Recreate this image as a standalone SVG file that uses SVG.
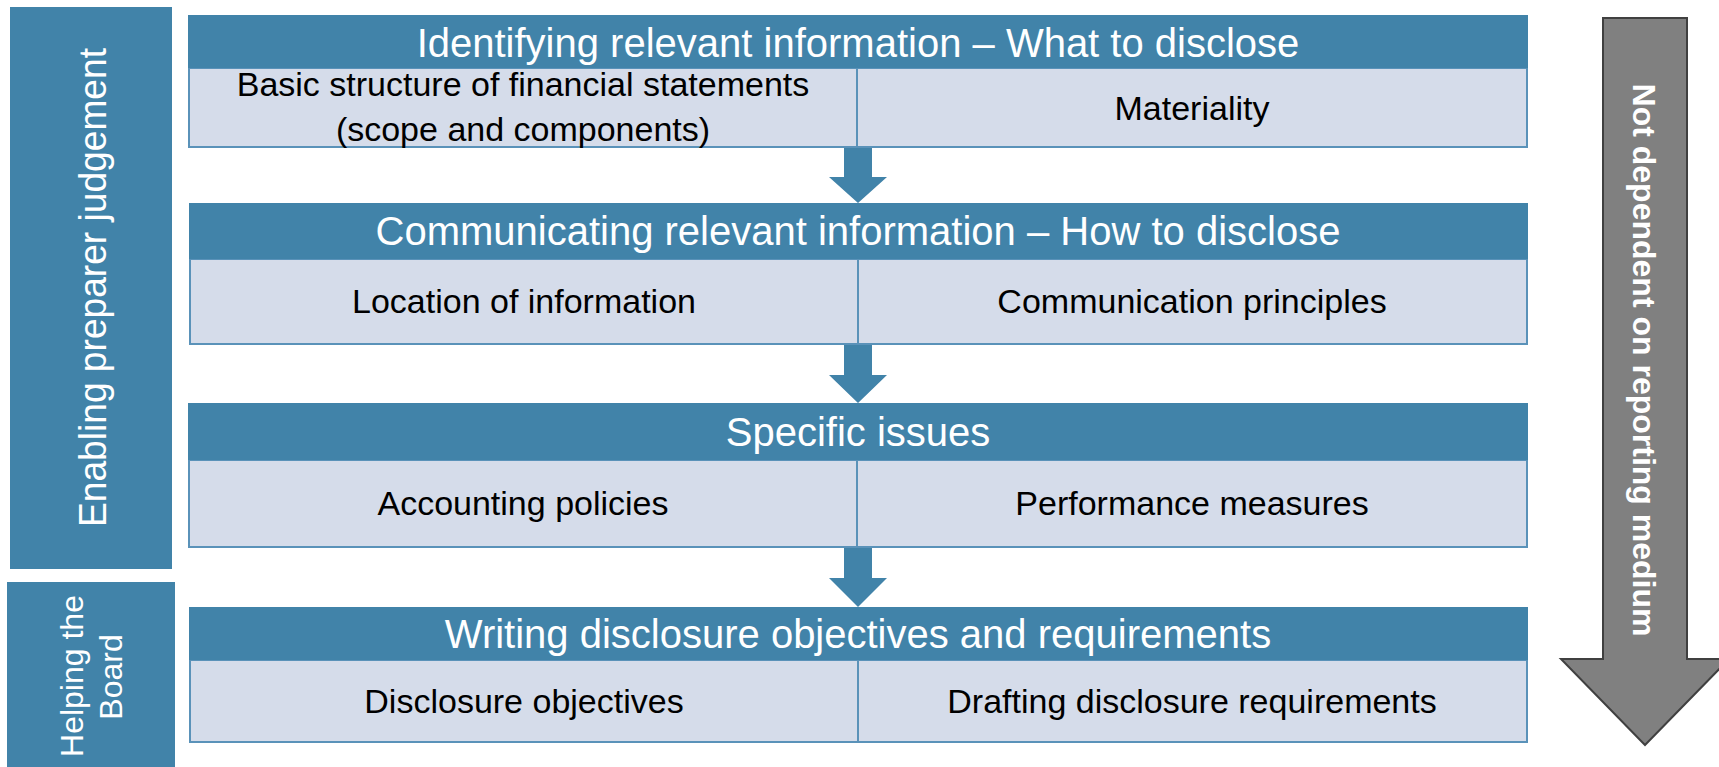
<svg xmlns="http://www.w3.org/2000/svg" width="1719" height="767" viewBox="0 0 1719 767">
  <style>
    .hdr { fill: #4183A9; }
    .body { fill: #D5DCEA; stroke: #5A92B9; stroke-width: 2; }
    .div { stroke: #5A92B9; stroke-width: 2; }
    .htxt { font-family: "Liberation Sans", Arial, sans-serif; font-size: 40px; fill: #FFFFFF; text-anchor: middle; }
    .btxt { font-family: "Liberation Sans", Arial, sans-serif; font-size: 34px; fill: #000000; text-anchor: middle; }
    .side { fill: #4183A9; }
    .stxt { font-family: "Liberation Sans", Arial, sans-serif; fill: #FFFFFF; text-anchor: middle; }
    .flow { fill: #4183A9; }
  </style>
  <rect width="1719" height="767" fill="#FFFFFF"/>

  <g id="side-enabling">
    <rect class="side" x="10" y="7" width="162" height="562"/>
    <text class="stxt" font-size="38" textLength="479" lengthAdjust="spacingAndGlyphs" transform="translate(106,287.5) rotate(-90)" x="0" y="0">Enabling preparer judgement</text>
  </g>

  <g id="side-helping">
    <rect class="side" x="7" y="582" width="168" height="185"/>
    <text class="stxt" font-size="32" transform="translate(83,676) rotate(-90)" x="0" y="0">Helping the</text>
    <text class="stxt" font-size="32" transform="translate(122,677) rotate(-90)" x="0" y="0">Board</text>
  </g>

  <g id="medium-arrow">
    <polygon points="1603,18 1687,18 1687,659 1729,659 1645,745 1561,659 1603,659" fill="#808080" stroke="#404040" stroke-width="2"/>
    <text font-family="'Liberation Sans', Arial, sans-serif" font-size="32" font-weight="bold" fill="#FFFFFF" text-anchor="middle" transform="translate(1633,360) rotate(90)" x="0" y="0">Not dependent on reporting medium</text>
  </g>

  <g id="connectors">
    <polygon class="flow" points="844,147 872,147 872,177 887,177 858,203 829,177 844,177"/>
    <polygon class="flow" points="844,344 872,344 872,375 887,375 858,403 829,375 844,375"/>
    <polygon class="flow" points="844,547 872,547 872,578 887,578 858,607 829,578 844,578"/>
  </g>

  <g id="box-identifying">
    <rect class="body" x="189" y="68" width="1338" height="79"/>
    <line class="div" x1="857" y1="68" x2="857" y2="147"/>
    <rect class="hdr" x="188" y="15" width="1340" height="53"/>
    <text class="htxt" x="858" y="57">Identifying relevant information – What to disclose</text>
    <text class="btxt" x="523" y="96">Basic structure of financial statements</text>
    <text class="btxt" x="523" y="141">(scope and components)</text>
    <text class="btxt" x="1192" y="120">Materiality</text>
  </g>

  <g id="box-communicating">
    <rect class="body" x="190" y="259" width="1337" height="85"/>
    <line class="div" x1="858" y1="259" x2="858" y2="344"/>
    <rect class="hdr" x="189" y="203" width="1339" height="56"/>
    <text class="htxt" x="858" y="245">Communicating relevant information – How to disclose</text>
    <text class="btxt" x="524" y="313">Location of information</text>
    <text class="btxt" x="1192" y="313">Communication principles</text>
  </g>

  <g id="box-specific">
    <rect class="body" x="189" y="460" width="1338" height="87"/>
    <line class="div" x1="857" y1="460" x2="857" y2="547"/>
    <rect class="hdr" x="188" y="403" width="1340" height="57"/>
    <text class="htxt" x="858" y="446">Specific issues</text>
    <text class="btxt" x="523" y="515">Accounting policies</text>
    <text class="btxt" x="1192" y="515">Performance measures</text>
  </g>

  <g id="box-writing">
    <rect class="body" x="190" y="660" width="1337" height="82"/>
    <line class="div" x1="858" y1="660" x2="858" y2="742"/>
    <rect class="hdr" x="189" y="607" width="1339" height="53"/>
    <text class="htxt" x="858" y="648">Writing disclosure objectives and requirements</text>
    <text class="btxt" x="524" y="713">Disclosure objectives</text>
    <text class="btxt" x="1192" y="713">Drafting disclosure requirements</text>
  </g>
</svg>
